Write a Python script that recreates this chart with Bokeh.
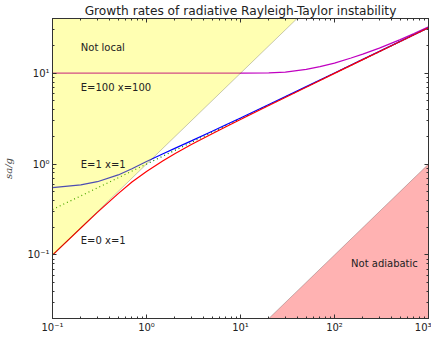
from bokeh.plotting import figure
from bokeh.models import LogAxis, FixedTicker, Label, Range1d
from bokeh.embed import file_html
from bokeh.resources import INLINE

# ---- data ----
k = [0.1, 0.2, 0.3, 0.5, 0.7, 1, 1.5, 2, 3, 5, 7, 10, 20, 50, 100, 200, 500, 1000]
s_E1_x1 = [0.55, 0.59, 0.64, 0.76, 0.89, 1.07, 1.30, 1.49, 1.80, 2.30, 2.71, 3.21,
           4.52, 7.12, 10.05, 14.2, 22.4, 31.7]
s_E0_x1 = [0.0998, 0.198, 0.294, 0.473, 0.634, 0.83, 1.09, 1.30, 1.64, 2.16, 2.58, 3.09,
           4.41, 7.02, 9.95, 14.1, 22.3, 31.6]

k_mag = [0.1, 1, 5, 10, 20, 30, 50, 70, 100, 150, 200, 300, 500, 700, 1000]
s_E100_x100 = [10, 10, 10, 10.02, 10.1, 10.3, 11.0, 11.8, 12.9, 14.7, 16.2, 18.9, 23.4, 27.3, 32.4]

k_sqrt = [0.1, 1000]
s_sqrt = [0.3162, 31.62]

k_limits = [0.1, 1000]
local_limit = [0.1, 1000]          # s = k  (upper-left region is "Not local")
local_top = [1000, 1000]
adiabatic_limit = [0.0001, 1]      # s = k/1000 (lower-right region is "Not adiabatic")
adiabatic_bottom = [0.00001, 0.00001]

x_major = [0.1, 1, 10, 100, 1000]
x_labels = ["10⁻¹", "10⁰", "10¹", "10²", "10³"]
y_major = [0.1, 1, 10]
y_labels = ["10⁻¹", "10⁰", "10¹"]

minor_x = [m * d for d in [0.1, 1, 10, 100] for m in range(2, 10)]
minor_y = [m * d for d in [0.01, 0.1, 1, 10] for m in range(2, 10)]

FONT = "DejaVu Sans"

p = figure(width=431, height=344, x_axis_type="log", y_axis_type="log",
           x_range=Range1d(0.1, 1000), y_range=Range1d(0.02, 40),
           output_backend="svg", toolbar_location=None,
           title="Growth rates of radiative Rayleigh-Taylor instability",
           min_border_left=46, min_border_right=3, min_border_top=11, min_border_bottom=26)

p.title.text_font = FONT
p.title.text_font_size = "12.2px"
p.title.text_font_style = "normal"
p.title.align = "center"
p.title.text_color = "#222222"
p.title.standoff = 2
p.title.offset = 0

p.xgrid.visible = False
p.ygrid.visible = False
p.outline_line_color = "#333333"
p.background_fill_color = "white"
p.border_fill_color = "white"

xt = FixedTicker(ticks=x_major, minor_ticks=minor_x)
yt = FixedTicker(ticks=y_major, minor_ticks=minor_y)


def style_axis(ax, labels_on):
    ax.major_tick_in = 4
    ax.major_tick_out = 0
    ax.minor_tick_in = 2
    ax.minor_tick_out = 0
    ax.axis_line_color = "#333333"
    ax.major_tick_line_color = "#333333"
    ax.minor_tick_line_color = "#333333"
    ax.major_label_text_font = FONT
    ax.major_label_text_font_size = "10px" if labels_on else "1px"
    ax.major_label_text_color = "#222222" if labels_on else None
    ax.axis_label_text_font = "DejaVu Serif"
    ax.axis_label_text_font_style = "italic"
    ax.axis_label_text_font_size = "10px"
    ax.axis_label_text_color = "#444444"


p.xaxis.ticker = xt
p.yaxis.ticker = yt
p.xaxis.major_label_overrides = dict(zip(x_major, x_labels))
p.yaxis.major_label_overrides = dict(zip(y_major, y_labels))
p.yaxis.axis_label = "sa/g"
style_axis(p.xaxis[0], True)
style_axis(p.yaxis[0], True)
p.xaxis.major_label_standoff = 3
p.yaxis.major_label_standoff = 3
p.yaxis.axis_label_standoff = 10

top_ax = LogAxis(ticker=xt)
right_ax = LogAxis(ticker=yt)
style_axis(top_ax, False)
style_axis(right_ax, False)
top_ax.major_label_overrides = {t: "" for t in x_major}
right_ax.major_label_overrides = {t: "" for t in y_major}
top_ax.major_label_standoff = 0
right_ax.major_label_standoff = 0
p.add_layout(top_ax, "above")
p.add_layout(right_ax, "right")

# x-axis title, centred under the middle decade, in the bottom border
p.add_layout(Label(x=10, y=-22, x_units="data", y_units="screen",
                   text="ka² /g", text_font="DejaVu Serif", text_font_style="italic",
                   text_font_size="10px", text_color="#444444",
                   text_align="center", text_baseline="middle"))

# curves
p.line(k_mag, s_E100_x100, line_color="#c000c0", line_width=1.2)
p.line(k_sqrt, s_sqrt, line_color="#008000", line_width=1.2, line_dash="1 3")
p.line(k, s_E1_x1, line_color="blue", line_width=1.2)
p.line(k, s_E0_x1, line_color="red", line_width=1.2)

# regions (drawn above the curves, translucent)
p.varea(x=k_limits, y1=local_limit, y2=local_top, fill_color="yellow", fill_alpha=0.3)
p.line(k_limits, local_limit, line_color="black", line_alpha=0.22, line_width=1)
p.varea(x=k_limits, y1=adiabatic_bottom, y2=adiabatic_limit, fill_color="red", fill_alpha=0.3)
p.line(k_limits, adiabatic_limit, line_color="black", line_alpha=0.22, line_width=1)

for (lx, ly, txt) in [(0.2, 19, "Not local"), (0.2, 7, "E=100 x=100"),
                      (0.2, 1.0, "E=1 x=1"), (0.2, 0.145, "E=0 x=1"),
                      (150, 0.08, "Not adiabatic")]:
    p.add_layout(Label(x=lx, y=ly, text=txt, text_font=FONT, text_font_size="10px",
                       text_color="#222222", text_baseline="alphabetic"))

open("out.html", "w").write(file_html(p, INLINE))
